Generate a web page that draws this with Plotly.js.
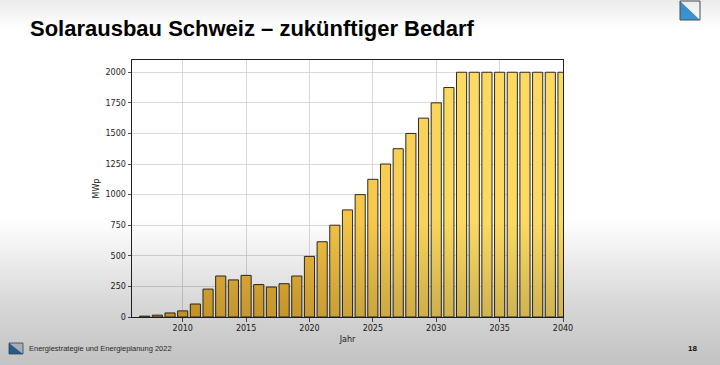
<!DOCTYPE html>
<html>
<head>
<meta charset="utf-8">
<script src="https://cdn.plot.ly/plotly-3.0.1.min.js"></script>
<style>
  html, body { margin: 0; padding: 0; background: #ffffff; }
  #wrap { position: relative; width: 720px; height: 365px; overflow: hidden; }
  #chart { width: 720px; height: 365px; }
  #shade { position: absolute; left: 0; top: 0; width: 720px; height: 365px; pointer-events: none;
    background: linear-gradient(to bottom, rgba(0,0,0,0.08) 0%, rgba(0,0,0,0) 8%, rgba(0,0,0,0) 60%,
      rgba(0,0,0,0.06) 69%, rgba(0,0,0,0.15) 82%, rgba(0,0,0,0.24) 100%); }
</style>
</head>
<body>
<div id="wrap">
  <div id="chart"></div>
  <div id="shade"></div>
</div>
<script>
const years = [2007, 2008, 2009, 2010, 2011, 2012, 2013, 2014, 2015, 2016, 2017, 2018, 2019, 2020, 2021,
               2022, 2023, 2024, 2025, 2026, 2027, 2028, 2029, 2030, 2031, 2032, 2033, 2034, 2035, 2036,
               2037, 2038, 2039, 2040];
const mwp = [7, 15, 33, 50, 106, 228, 335, 303, 340, 265, 245, 272, 335, 495, 615,
             750, 875, 1000, 1125, 1250, 1375, 1500, 1625, 1750, 1875, 2000, 2000, 2000, 2000, 2000,
             2000, 2000, 2000, 2000];
const yTicks = [0, 250, 500, 750, 1000, 1250, 1500, 1750, 2000];
const xTicks = [2010, 2015, 2020, 2025, 2030, 2035, 2040];
const titleText = 'Solarausbau Schweiz – zukünftiger Bedarf';
const footerText = 'Energiestrategie und Energieplanung 2022';
const pageNumber = '18';

// plot area in pixels: x 132..563, y 60..317
const L = 132, R = 563, T = 60, B = 317;
const px = x => (x - L) / (R - L);
const py = y => (B - y) / (B - T);
function tri(pts) { return 'M ' + pts.map(p => px(p[0]) + ',' + py(p[1])).join(' L ') + ' Z'; }

const trace = {
  type: 'bar', x: years, y: mwp, width: 0.8,
  marker: {
    color: mwp, cmin: 0, cmax: 2000,
    colorscale: [[0, '#e9ae2e'], [0.35, '#f3c142'], [1, '#fcda62']],
    line: { color: '#2e2a22', width: 1 }
  },
  hoverinfo: 'x+y'
};

const shapes = [
  // top-right emblem
  { type: 'path', xref: 'paper', yref: 'paper', path: tri([[680, 1], [700, 1], [700, 20]]), fillcolor: '#ffffff', line: { width: 0 } },
  { type: 'path', xref: 'paper', yref: 'paper', path: tri([[680, 1], [700, 20], [680, 20]]), fillcolor: '#3d97d6', line: { width: 0 } },
  { type: 'rect', xref: 'paper', yref: 'paper', x0: px(680), x1: px(700), y0: py(20), y1: py(1), line: { color: '#4a5058', width: 1 } },
  // footer emblem
  { type: 'path', xref: 'paper', yref: 'paper', path: tri([[9, 343], [23, 343], [23, 354]]), fillcolor: '#d8dde2', line: { width: 0 } },
  { type: 'path', xref: 'paper', yref: 'paper', path: tri([[9, 343], [23, 354], [9, 354]]), fillcolor: '#2f74b0', line: { width: 0 } },
  { type: 'rect', xref: 'paper', yref: 'paper', x0: px(9), x1: px(23), y0: py(354), y1: py(343), line: { color: '#3a5570', width: 0.8 } }
];

const layout = {
  width: 720, height: 365,
  margin: { l: L, r: 720 - R, t: T, b: 365 - B, pad: 0 },
  paper_bgcolor: 'rgba(0,0,0,0)', plot_bgcolor: '#ffffff',
  showlegend: false, bargap: 0.2,
  font: { family: 'DejaVu Sans, sans-serif', size: 8, color: '#222222' },
  title: {
    text: titleText, xref: 'container', yref: 'container', x: 30 / 720, xanchor: 'left',
    y: 1 - 28 / 365, yanchor: 'middle',
    font: { family: 'Liberation Sans, Arial, sans-serif', size: 22, weight: 700, color: '#000000' }
  },
  xaxis: {
    range: [2006, 2040], tickvals: xTicks, ticktext: xTicks.map(String),
    ticks: 'outside', ticklen: 3.5, tickcolor: '#222', tickwidth: 0.8,
    showgrid: true, gridcolor: '#cfcfcf', gridwidth: 0.8,
    showline: true, linecolor: '#222222', linewidth: 1, mirror: true, zeroline: false,
    title: { text: 'Jahr', font: { size: 8, color: '#222' }, standoff: 4 },
    tickfont: { size: 8, color: '#222' }
  },
  yaxis: {
    range: [0, 2100], tickvals: yTicks, ticktext: yTicks.map(String),
    ticks: 'outside', ticklen: 3.5, tickcolor: '#222', tickwidth: 0.8,
    showgrid: true, gridcolor: '#cfcfcf', gridwidth: 0.8,
    showline: true, linecolor: '#222222', linewidth: 1, mirror: true, zeroline: false,
    title: { text: 'MWp', font: { size: 8, color: '#222' }, standoff: 4 },
    tickfont: { size: 8, color: '#222' }
  },
  shapes: shapes,
  annotations: [
    { xref: 'paper', yref: 'paper', x: px(27), y: py(348), xanchor: 'left', yanchor: 'middle', showarrow: false,
      text: footerText, font: { family: 'Liberation Sans, Arial, sans-serif', size: 7.5, color: '#333333' } },
    { xref: 'paper', yref: 'paper', x: px(699), y: py(348), xanchor: 'right', yanchor: 'middle', showarrow: false,
      text: '<b>' + pageNumber + '</b>', font: { family: 'Liberation Sans, Arial, sans-serif', size: 8, color: '#111111' } }
  ]
};

Plotly.newPlot('chart', [trace], layout, { displayModeBar: false, staticPlot: true });
</script>
</body>
</html>
